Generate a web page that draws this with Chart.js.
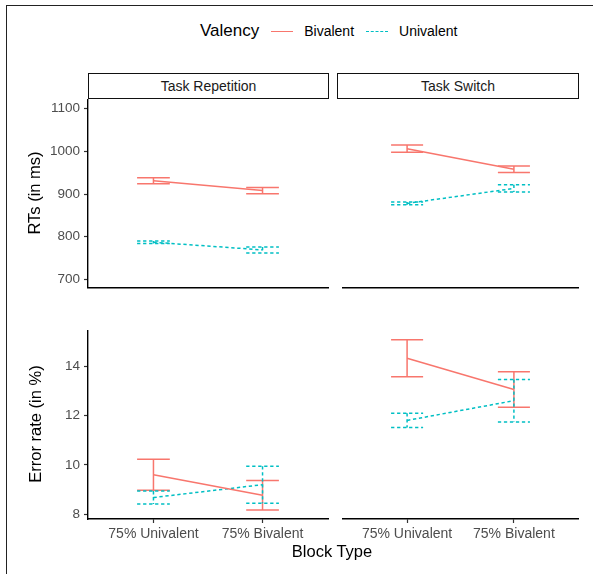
<!DOCTYPE html>
<html>
<head>
<meta charset="utf-8">
<script src="https://cdn.jsdelivr.net/npm/chart.js@4.4.1/dist/chart.umd.min.js"></script>
<style>
  html, body { margin: 0; padding: 0; background: #fff; }
  body { width: 593px; height: 574px; position: relative; overflow: hidden;
         font-family: 'Liberation Sans', Arial, sans-serif; }
  .frame { position: absolute; left: 6px; top: 5px; width: 600px; height: 600px;
           border-left: 1.5px solid #222; border-top: 1.5px solid #222; }
  .box { position: absolute; }
  .strip { position: absolute; top: 73px; height: 26px; box-sizing: border-box;
           border: 1.4px solid #111; font-size: 14px; color: #1a1a1a;
           display: flex; align-items: center; justify-content: center; }
  .ytitle { position: absolute; font-size: 16.5px; color: #000; white-space: nowrap;
            transform: translate(-50%, -50%) rotate(-90deg); }
  .xtitle { position: absolute; font-size: 16.5px; color: #000; white-space: nowrap;
            transform: translate(-50%, -50%); }
  .legend { position: absolute; left: 200px; top: 21px; height: 20px; display: flex;
            align-items: center; color: #000; white-space: nowrap; }
  .legend .ttl { font-size: 17px; margin-right: 12px; }
  .legend .key { width: 22px; height: 0; margin-right: 11px; }
  .legend .lab { font-size: 14px; margin-right: 12px; }
</style>
</head>
<body>
<div class="frame"></div>

<div class="legend">
  <span class="ttl">Valency</span>
  <span class="key" style="border-top:1.6px solid #F8766D"></span>
  <span class="lab">Bivalent</span>
  <span class="key" style="border-top:1.6px dashed #00BFC4"></span>
  <span class="lab">Univalent</span>
</div>

<div class="strip" style="left:88px;width:241px">Task Repetition</div>
<div class="strip" style="left:337px;width:242px">Task Switch</div>

<div class="box" id="w-tl"><canvas id="c-tl"></canvas></div>
<div class="box" id="w-tr"><canvas id="c-tr"></canvas></div>
<div class="box" id="w-bl"><canvas id="c-bl"></canvas></div>
<div class="box" id="w-br"><canvas id="c-br"></canvas></div>

<div class="ytitle" style="left:34px;top:193px">RTs (in ms)</div>
<div class="ytitle" style="left:35px;top:424px">Error rate (in %)</div>
<div class="xtitle" style="left:332px;top:551px">Block Type</div>

<script>
// ── Data ──────────────────────────────────────────────
const BLOCK_TYPES = ['75% Univalent', '75% Bivalent'];
const BLOCK_POS   = [1, 2];
const VALENCY     = ['Bivalent', 'Univalent'];

const RT_TICKS  = [700, 800, 900, 1000, 1100];
const ERR_TICKS = [8, 10, 12, 14];

// RTs (ms), Task Repetition
const RT_REP_BI       = [931, 908];
const RT_REP_BI_SE    = [7, 7.5];
const RT_REP_UNI      = [787, 769];
const RT_REP_UNI_SE   = [3, 7];
// RTs (ms), Task Switch
const RT_SW_BI        = [1006, 958];
const RT_SW_BI_SE     = [8.5, 7.5];
const RT_SW_UNI       = [878, 913];
const RT_SW_UNI_SE    = [3, 8.5];
// Error rate (%), Task Repetition
const ERR_REP_BI      = [9.6, 8.77];
const ERR_REP_BI_SE   = [0.63, 0.6];
const ERR_REP_UNI     = [8.68, 9.2];
const ERR_REP_UNI_SE  = [0.26, 0.75];
// Error rate (%), Task Switch
const ERR_SW_BI       = [14.32, 13.05];
const ERR_SW_BI_SE    = [0.75, 0.72];
const ERR_SW_UNI      = [11.8, 12.6];
const ERR_SW_UNI_SE   = [0.29, 0.86];

// ── Style / layout ────────────────────────────────────
const RED  = '#F8766D';
const TEAL = '#00BFC4';
const DASH = [3.3, 2.7];
const CAP_HALF = 0.15;
const RT_RANGE  = [680, 1120];
const ERR_RANGE = [7.81, 15.42];

Chart.defaults.font.family = "'Liberation Sans', Arial, sans-serif";
Chart.defaults.animation = false;

// error bars drawn through the chart's own scales
const errorBars = {
  id: 'errorBars',
  beforeDatasetsDraw(chart) {
    const { ctx, chartArea, scales: { x, y } } = chart;
    ctx.save();
    ctx.beginPath();
    ctx.rect(chartArea.left, chartArea.top, chartArea.right - chartArea.left, chartArea.bottom - chartArea.top);
    ctx.clip();
    chart.data.datasets.forEach(ds => {
      ctx.strokeStyle = ds.borderColor;
      ctx.lineWidth = ds.borderWidth;
      ctx.setLineDash(ds.borderDash || []);
      ds.data.forEach((p, j) => {
        const e  = ds.se[j];
        const xc = x.getPixelForValue(p.x);
        const xl = x.getPixelForValue(p.x - CAP_HALF);
        const xr = x.getPixelForValue(p.x + CAP_HALF);
        const yt = y.getPixelForValue(p.y + e);
        const yb = y.getPixelForValue(p.y - e);
        ctx.beginPath();
        ctx.moveTo(xl, yt); ctx.lineTo(xr, yt);
        ctx.moveTo(xc, yt); ctx.lineTo(xc, yb);
        ctx.moveTo(xl, yb); ctx.lineTo(xr, yb);
        ctx.stroke();
      });
    });
    ctx.restore();
  }
};

function series(label, vals, se, color, dash) {
  return {
    label,
    data: BLOCK_POS.map((p, i) => ({ x: p, y: vals[i] })),
    se,
    showLine: true,
    borderColor: color,
    backgroundColor: color,
    borderWidth: 1.5,
    borderDash: dash,
    pointRadius: 0,
    pointHoverRadius: 0
  };
}

// pos: box of the panel area { left, top, w, h }; showY / showX control axes
function panel(id, pos, bi, biSe, uni, uniSe, range, ticks, showY, showX) {
  const padL = showY ? 48 : 6;
  const padT = 12, padR = 6;
  const xh = showX ? 34 : 12;
  const wrap = document.getElementById('w-' + id);
  wrap.style.left   = (pos.left - padL) + 'px';
  wrap.style.top    = (pos.top - padT) + 'px';
  wrap.style.width  = (padL + pos.w + padR) + 'px';
  wrap.style.height = (padT + pos.h + xh) + 'px';

  new Chart(document.getElementById('c-' + id), {
    type: 'scatter',
    data: {
      datasets: [
        series(VALENCY[0], bi, biSe, RED, []),
        series(VALENCY[1], uni, uniSe, TEAL, DASH)
      ]
    },
    plugins: [errorBars],
    options: {
      responsive: true,
      maintainAspectRatio: false,
      layout: { padding: { top: padT, right: padR, left: showY ? 0 : padL, bottom: 0 } },
      plugins: { legend: { display: false }, tooltip: { enabled: false } },
      scales: {
        x: {
          type: 'linear', min: 0.4, max: 2.6,
          afterBuildTicks: s => { s.ticks = BLOCK_POS.map(v => ({ value: v })); },
          afterFit: s => { s.height = xh; },
          border: { display: true, color: '#000', width: 1.4 },
          grid: { drawOnChartArea: false, drawTicks: showX, tickLength: 4, tickColor: '#333', tickWidth: 1.2 },
          ticks: {
            display: showX, padding: 3, color: '#4D4D4D', font: { size: 14 },
            maxRotation: 0, autoSkip: false,
            callback: v => BLOCK_TYPES[BLOCK_POS.indexOf(v)]
          }
        },
        y: {
          display: showY,
          min: range[0], max: range[1],
          afterBuildTicks: s => { s.ticks = ticks.map(v => ({ value: v })); },
          afterFit: s => { s.width = padL; },
          border: { display: true, color: '#000', width: 1.4 },
          grid: { drawOnChartArea: false, drawTicks: true, tickLength: 4, tickColor: '#333', tickWidth: 1.2 },
          ticks: { padding: 4, color: '#4D4D4D', font: { size: 13.5 }, callback: v => String(v) }
        }
      }
    }
  });
}

const COL_L = { left: 88,  w: 240 };
const COL_R = { left: 337, w: 241 };
const ROW_T = { top: 99.5, h: 188 };
const ROW_B = { top: 331,  h: 188 };

panel('tl', { ...COL_L, ...ROW_T }, RT_REP_BI, RT_REP_BI_SE, RT_REP_UNI, RT_REP_UNI_SE, RT_RANGE, RT_TICKS, true, false);
panel('tr', { ...COL_R, ...ROW_T }, RT_SW_BI, RT_SW_BI_SE, RT_SW_UNI, RT_SW_UNI_SE, RT_RANGE, RT_TICKS, false, false);
panel('bl', { ...COL_L, ...ROW_B }, ERR_REP_BI, ERR_REP_BI_SE, ERR_REP_UNI, ERR_REP_UNI_SE, ERR_RANGE, ERR_TICKS, true, true);
panel('br', { ...COL_R, ...ROW_B }, ERR_SW_BI, ERR_SW_BI_SE, ERR_SW_UNI, ERR_SW_UNI_SE, ERR_RANGE, ERR_TICKS, false, true);
</script>
</body>
</html>
